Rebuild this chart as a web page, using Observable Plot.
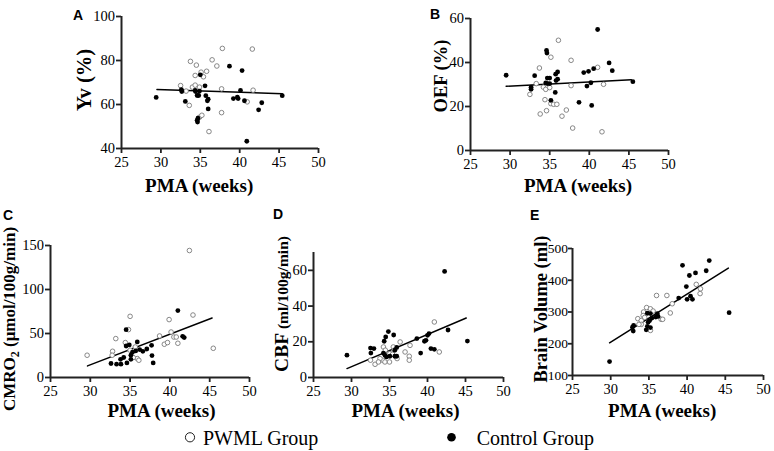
<!DOCTYPE html>
<html>
<head>
<meta charset="utf-8">
<script src="https://cdn.jsdelivr.net/npm/d3@7"></script>
<script src="https://cdn.jsdelivr.net/npm/@observablehq/plot@0.6"></script>
<style>
  html, body { margin: 0; padding: 0; background: #fff; }
  #fig { position: relative; width: 774px; height: 451px; overflow: hidden; background: #fff;
         font-family: 'Liberation Serif', 'Times New Roman', 'DejaVu Serif', serif; color: #000; }
  #fig svg { position: absolute; max-width: none; overflow: visible; }
  #fig svg text { font-family: 'Liberation Serif', 'Times New Roman', 'DejaVu Serif', serif; }
  .letter { position: absolute; font-family: 'Liberation Sans', Arial, sans-serif; font-weight: bold;
            font-size: 14px; line-height: 14px; }
</style>
</head>
<body>
<div id="fig"></div>
<script>
// ---------- data ----------
const xTicks = [25, 30, 35, 40, 45, 50];
const groupLabels = ["PWML Group", "Control Group"];

// Panel A: Yv (%)
const pwmlA = [[37.8,85.5],[41.6,85.2],[33.75,79.6],[34.5,77.9],[36.5,80.3],[37.1,77.5],[35.1,74.7],[35.4,72.6],[34.35,73.2],[35.8,75.1],[32.5,68.6],[33.2,66.1],[34.0,67.9],[34.35,68.8],[34.9,67.9],[33.6,59.6],[34.9,54.2],[35.2,55.1],[36.1,47.7],[37.7,67.1],[37.7,56.3],[40.95,61.2],[41.7,66.5]];
const ctrlA = [[29.4,63.2],[32.6,66.8],[32.65,65.9],[33.1,61.4],[34.35,66.4],[34.4,65.9],[34.6,64.1],[34.8,64.1],[34.9,66.1],[35.0,73.5],[35.6,68.5],[35.7,64.0],[36.0,62.4],[35.9,61.7],[36.0,58.0],[34.7,53.8],[34.6,52.8],[34.65,52.0],[38.7,77.4],[39.2,62.7],[39.7,63.3],[39.8,62.7],[40.1,66.4],[40.3,75.4],[40.6,61.7],[40.9,43.3],[42.4,57.6],[42.8,60.8],[45.4,64.0]];
const fitA = [[29.5,66.8],[45.4,64.9]];
const yTicksA = [40, 60, 80, 100];

// Panel B: OEF (%)
const pwmlB = [[36.1,50.1],[35.15,42.4],[33.7,37.5],[37.7,41.0],[41.05,37.8],[33.3,30.4],[32.5,25.5],[34.2,28.8],[34.5,27.8],[35.0,28.6],[37.7,29.5],[41.8,30.1],[34.4,23.1],[35.15,21.3],[35.5,21.0],[35.9,21.0],[37.1,18.4],[33.8,16.6],[34.6,18.1],[36.55,15.6],[37.9,10.2],[41.6,8.5]];
const ctrlB = [[29.5,34.2],[32.65,28.8],[32.65,27.8],[33.1,34.0],[34.6,45.5],[34.65,44.3],[34.7,32.9],[35.0,32.9],[34.5,30.7],[34.7,30.4],[35.0,30.4],[35.75,34.7],[36.0,35.7],[36.0,32.4],[35.8,31.8],[35.7,26.4],[35.15,22.8],[38.7,21.9],[39.3,35.4],[39.9,36.0],[40.55,37.2],[39.7,29.3],[40.2,30.8],[40.3,20.5],[41.05,55.0],[42.5,39.8],[42.9,36.3],[45.5,31.3]];
const fitB = [[29.5,29.2],[45.3,32.2]];
const yTicksB = [0, 20, 40, 60];

// Panel C: CMRO2 (µmol/100g/min)
const pwmlC = [[42.45,144.3],[29.6,25.3],[32.8,29.8],[32.75,25.3],[35.0,69.5],[34.8,54.4],[33.2,44.2],[34.4,39.7],[35.0,31.0],[35.65,34.7],[35.9,21.5],[36.1,19.6],[35.4,22.7],[38.7,47.2],[39.9,65.8],[40.15,51.7],[40.5,46.0],[40.8,46.0],[39.3,37.8],[39.7,39.7],[41.0,38.9],[42.9,71.0],[45.45,33.2]];
const ctrlC = [[32.6,15.9],[33.3,15.1],[33.85,15.1],[34.6,16.6],[37.9,16.6],[33.8,20.7],[34.2,22.7],[34.5,35.8],[34.9,37.0],[34.5,54.4],[35.1,25.3],[35.3,28.7],[35.1,20.7],[35.9,40.4],[35.7,30.2],[36.2,31.7],[36.6,29.8],[37.1,32.4],[37.7,36.6],[37.75,24.9],[41.0,76.0],[41.6,46.8],[41.8,45.4]];
const fitC = [[29.65,13.2],[45.3,67.6]];
const yTicksC = [0, 50, 100, 150];

// Panel D: CBF (ml/100g/min)
const pwmlD = [[40.9,31.1],[41.55,14.3],[36.4,19.9],[37.7,18.0],[37.05,14.3],[37.6,11.9],[37.6,9.7],[34.2,17.1],[35.5,17.1],[35.6,15.3],[34.1,9.7],[33.75,10.6],[32.5,9.7],[33.1,7.4],[33.55,8.7],[34.4,8.7],[35.0,8.7],[36.0,10.6],[35.05,13.4],[35.4,13.0],[34.45,15.3]];
const ctrlD = [[29.4,12.5],[42.25,59.4],[45.25,20.4],[32.5,16.5],[32.95,16.2],[32.55,13.7],[34.3,20.3],[34.5,22.7],[34.85,25.7],[35.55,23.8],[34.2,13.7],[34.4,12.5],[34.6,11.5],[35.05,11.9],[35.7,11.9],[35.95,11.9],[35.7,15.3],[35.95,16.8],[38.6,21.8],[39.6,20.3],[39.8,20.8],[40.0,23.6],[40.2,24.6],[39.1,13.7],[40.45,16.2],[40.9,15.8],[42.7,26.6]];
const fitD = [[29.4,5.0],[45.1,33.3]];
const yTicksD = [0, 20, 40, 60];

// Panel E: Brain Volume (ml)
const pwmlE = [[36.0,352],[37.35,352],[38.05,326],[37.8,297],[41.2,387],[41.75,373],[41.7,358],[34.7,314],[35.2,310],[35.55,303],[34.3,300],[34.25,289],[33.55,279],[34.0,273],[34.45,283],[34.0,261],[36.6,277],[36.8,277],[35.2,242],[33.7,261]];
const ctrlE = [[29.85,144],[45.5,298],[39.4,447],[42.9,462],[40.3,415],[41.1,423],[42.5,430],[39.9,380],[38.9,344],[40.0,340],[40.7,340],[40.45,350],[32.85,252],[33.0,258],[32.95,240],[34.65,244],[34.8,255],[35.2,251],[34.8,296],[35.2,295],[35.4,281],[35.9,284],[36.2,286],[36.1,295],[35.1,273],[34.9,268]];
const fitE = [[29.85,203],[45.4,438.5]];
const yTicksE = [100, 200, 300, 400, 500];

// ---------- drawing ----------
const SERIF = "'Liberation Serif', 'Times New Roman', 'DejaVu Serif', serif";
const AXIS = "#222";
const fig = document.getElementById("fig");

function panel(cfg) {
  const { L, T, W, H, fx0, fx1, fy0, fy1, yDomain, yTicks, pwml, ctrl, fit,
          letter, letterPos, xLabelX, xLabelBase, yLabelParts, yLabelX, yLabelY,
          yTickFont = 14.5, yTickPad = 1.5, yTickSize = 5 } = cfg;
  const marginLeft = fx0 - L, marginRight = L + W - fx1, marginTop = fy0 - T, marginBottom = T + H - fy1;
  const chart = Plot.plot({
    width: W, height: H, marginLeft, marginRight, marginTop, marginBottom,
    style: { background: "transparent", fontFamily: SERIF, fontSize: "14.5px", color: "#000", overflow: "visible" },
    x: { domain: [25, 50], label: null },
    y: { domain: yDomain, label: null },
    marks: [
      Plot.axisX({ ticks: xTicks, tickSize: 5, tickPadding: 3.5, tickFormat: d => String(d), label: null,
                   stroke: AXIS, strokeWidth: 1.8, fill: "#000", fontSize: 14.5 }),
      Plot.axisY({ ticks: yTicks, tickSize: yTickSize, tickPadding: yTickPad, tickFormat: d => String(d), label: null,
                   stroke: AXIS, strokeWidth: 1.8, fill: "#000", fontSize: yTickFont }),
      Plot.ruleY([yDomain[0]], { stroke: AXIS, strokeWidth: 2 }),
      Plot.ruleX([25], { stroke: AXIS, strokeWidth: 2 }),
      Plot.line(fit, { x: d => d[0], y: d => d[1], stroke: "#000", strokeWidth: 1.5 }),
      Plot.dot(pwml, { x: d => d[0], y: d => d[1], r: 2.3, fill: "#fff", stroke: "#7a7a7a", strokeWidth: 0.9 }),
      Plot.dot(ctrl, { x: d => d[0], y: d => d[1], r: 2.4, fill: "#000", stroke: "none" }),
      Plot.text(["PMA (weeks)"], { x: 25, frameAnchor: "bottom", text: d => d, textAnchor: "middle",
                   lineAnchor: "bottom", dx: xLabelX - fx0, dy: xLabelBase - fy1,
                   fontSize: 19, fontWeight: "bold", fill: "#000" })
    ]
  });
  chart.style.left = L + "px";
  chart.style.top = T + "px";
  const t = d3.select(chart).append("text")
    .attr("transform", `translate(${yLabelX - L},${yLabelY - T}) rotate(-90)`)
    .attr("text-anchor", "middle")
    .attr("font-weight", "bold")
    .attr("fill", "#000");
  yLabelParts.forEach(p => {
    const s = t.append("tspan").attr("font-size", p.size).text(p.text);
    if (p.dy) s.attr("dy", p.dy);
  });
  fig.appendChild(chart);
  const lt = document.createElement("div");
  lt.className = "letter";
  lt.textContent = letter;
  lt.style.left = letterPos[0] + "px";
  lt.style.top = letterPos[1] + "px";
  fig.appendChild(lt);
}

panel({ L: 60, T: 0, W: 270, H: 200, fx0: 121, fx1: 318, fy0: 16, fy1: 148,
  yDomain: [40, 100], yTicks: yTicksA, pwml: pwmlA, ctrl: ctrlA, fit: fitA,
  letter: "A", letterPos: [73, 7.5], xLabelX: 198.7, xLabelBase: 191.5,
  yLabelParts: [{ text: "Yv (%)", size: 20.5 }], yLabelX: 91, yLabelY: 80 });

panel({ L: 410, T: 0, W: 270, H: 200, fx0: 470, fx1: 668, fy0: 18, fy1: 150,
  yDomain: [0, 60], yTicks: yTicksB, pwml: pwmlB, ctrl: ctrlB, fit: fitB,
  letter: "B", letterPos: [430, 6.5], xLabelX: 577.5, xLabelBase: 191.5,
  yLabelParts: [{ text: "OEF (%)", size: 18.5 }], yLabelX: 447, yLabelY: 76 });

panel({ L: 0, T: 200, W: 260, H: 225, fx0: 50, fx1: 249, fy0: 245, fy1: 377,
  yDomain: [0, 150], yTicks: yTicksC, pwml: pwmlC, ctrl: ctrlC, fit: fitC,
  letter: "C", letterPos: [3, 208], xLabelX: 161, xLabelBase: 416.5,
  yLabelParts: [{ text: "CMRO", size: 17 }, { text: "2", size: 12, dy: 4 }, { text: " (μmol/100g/min)", size: 17, dy: -4 }],
  yLabelX: 15, yLabelY: 319 });

panel({ L: 262, T: 200, W: 253, H: 225, fx0: 313, fx1: 503, fy0: 252, fy1: 377,
  yDomain: [0, 70], yTicks: yTicksD, pwml: pwmlD, ctrl: ctrlD, fit: fitD,
  letter: "D", letterPos: [273, 206.5], xLabelX: 405, xLabelBase: 416.5,
  yLabelParts: [{ text: "CBF", size: 19.5 }, { text: " (ml/100g/min)", size: 15.5 }],
  yLabelX: 288, yLabelY: 304 });

panel({ L: 520, T: 200, W: 254, H: 225, fx0: 572, fx1: 763, fy0: 248, fy1: 375,
  yDomain: [100, 500], yTicks: yTicksE, pwml: pwmlE, ctrl: ctrlE, fit: fitE,
  letter: "E", letterPos: [530, 208], xLabelX: 661.7, xLabelBase: 416.5,
  yLabelParts: [{ text: "Brain Volume (ml)", size: 18.5 }], yLabelX: 547, yLabelY: 309,
  yTickFont: 13.5, yTickPad: 0.5, yTickSize: 4 });

// ---------- legend ----------
const legendItems = [
  { label: groupLabels[0], fill: "#fff", stroke: "#222", cx: 190, tx: 203 },
  { label: groupLabels[1], fill: "#000", stroke: "#000", cx: 451.5, tx: 476.7 }
];
const leg = d3.select(fig).append("svg")
  .attr("width", 774).attr("height", 30)
  .style("left", "0px").style("top", "421px");
legendItems.forEach(it => {
  leg.append("circle").attr("cx", it.cx).attr("cy", 16.3).attr("r", it.fill === "#000" ? 4.3 : 4.6)
    .attr("fill", it.fill).attr("stroke", it.stroke).attr("stroke-width", it.fill === "#000" ? 0 : 1);
  leg.append("text").attr("x", it.tx).attr("y", 24)
    .attr("font-size", 20).attr("fill", "#000").text(it.label);
});
</script>
</body>
</html>
